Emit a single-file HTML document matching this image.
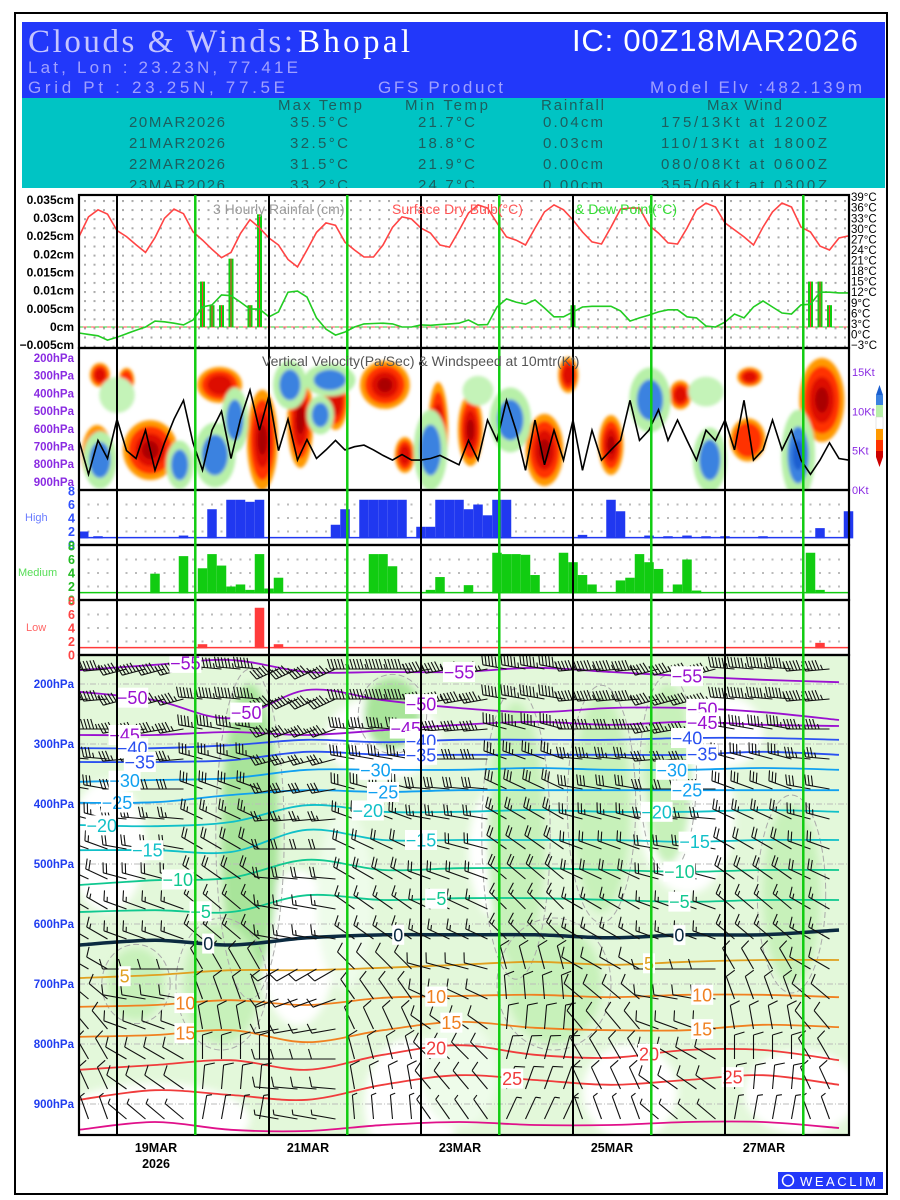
<!DOCTYPE html>
<html><head><meta charset="utf-8"><title>Clouds & Winds: Bhopal</title>
<style>
html,body{margin:0;padding:0;background:#fff;}
svg{display:block;font-family:"Liberation Sans",sans-serif;}
</style></head>
<body>
<svg id="chart" width="900" height="1200" viewBox="0 0 900 1200" xmlns="http://www.w3.org/2000/svg">
<defs>
<filter id="blur4" x="-30%" y="-30%" width="160%" height="160%"><feGaussianBlur stdDeviation="4"/></filter>
<filter id="blur2" x="-30%" y="-30%" width="160%" height="160%"><feGaussianBlur stdDeviation="1.5"/></filter>
<clipPath id="clipRain"><rect x="79" y="195" width="770" height="153"/></clipPath>
<clipPath id="clipVV"><rect x="79" y="349" width="770" height="141"/></clipPath>
<clipPath id="clipX"><rect x="79" y="656" width="770" height="479"/></clipPath>
<pattern id="dotsRain" x="84" y="200" width="9.5" height="9.1" patternUnits="userSpaceOnUse"><rect x="0" y="0" width="2" height="2" fill="#aaa"/></pattern>
</defs>
<rect x="0" y="0" width="900" height="1200" fill="#fff"/>
<rect x="15" y="13" width="872" height="1181" fill="none" stroke="#000" stroke-width="2"/>

<g>
<rect x="22" y="22" width="863" height="76" fill="#2238fa"/>
<rect x="22" y="98" width="863" height="92" fill="#00c4c4"/>
<text x="28" y="52" font-family="'Liberation Serif',serif" font-size="33" fill="#c4c4ff" textLength="265">Clouds &amp; Winds:</text>
<text x="298" y="52" font-family="'Liberation Serif',serif" font-size="33" fill="#fff" textLength="112">Bhopal</text>
<text x="572" y="51" font-size="31" fill="#fff" textLength="286">IC: 00Z18MAR2026</text>
<text x="28" y="73" font-size="17" fill="#a0a0ff" textLength="270">Lat, Lon : 23.23N, 77.41E</text>
<text x="28" y="93" font-size="17" fill="#a0a0ff" textLength="257">Grid Pt  : 23.25N, 77.5E</text>
<text x="378" y="93" font-size="17" fill="#a0a0ff" textLength="125">GFS Product</text>
<text x="650" y="93" font-size="17" fill="#a0a0ff" textLength="212">Model Elv :482.139m</text>
<g font-size="15" fill="#1d5e5e">
<text x="278" y="110" textLength="84">Max Temp</text>
<text x="405" y="110" textLength="83">Min Temp</text>
<text x="541" y="110" textLength="63">Rainfall</text>
<text x="707" y="110" textLength="75">Max Wind</text>
<text x="129" y="127" textLength="96">20MAR2026</text>
<text x="290" y="127" textLength="58">35.5°C</text>
<text x="418" y="127" textLength="57">21.7°C</text>
<text x="543" y="127" textLength="60">0.04cm</text>
<text x="661" y="127" textLength="166">175/13Kt at 1200Z</text>
<text x="129" y="148" textLength="96">21MAR2026</text>
<text x="290" y="148" textLength="58">32.5°C</text>
<text x="418" y="148" textLength="57">18.8°C</text>
<text x="543" y="148" textLength="60">0.03cm</text>
<text x="661" y="148" textLength="166">110/13Kt at 1800Z</text>
<text x="129" y="169" textLength="96">22MAR2026</text>
<text x="290" y="169" textLength="58">31.5°C</text>
<text x="418" y="169" textLength="57">21.9°C</text>
<text x="543" y="169" textLength="60">0.00cm</text>
<text x="661" y="169" textLength="166">080/08Kt at 0600Z</text>
<text x="129" y="190" textLength="96">23MAR2026</text>
<text x="290" y="190" textLength="58">33.2°C</text>
<text x="418" y="190" textLength="57">24.7°C</text>
<text x="543" y="190" textLength="60">0.00cm</text>
<text x="661" y="190" textLength="166">355/06Kt at 0300Z</text>
</g>
<rect x="22" y="188" width="863" height="3" fill="#fff"/>
</g>

<g id="rainPanel">
<rect x="79" y="196" width="770" height="151" fill="url(#dotsRain)"/>
</g>
<g id="vvPanel"></g>
<g id="cloudPanel"></g>
<g id="xsecPanel"></g>
<g id="frameLayer"></g>
<g id="axisLayer" font-weight="bold"></g>

<g font-size="14">
<text x="213" y="214" fill="#9a9a9a">3 Hourly Rainfal (cm)</text>
<text x="392" y="214" fill="#ff5555">Surface Dry Bulb(°C)</text>
<text x="575" y="214" fill="#33dd33">&amp; Dew Point(°C)</text>
<text x="262" y="366" fill="#555">Vertical Velocity(Pa/Sec) &amp; Windspeed at 10mtr(Kt)</text>
</g>

<g>
<polygon points="876,395 879.5,385 883,395" fill="#1a5fd0"/>
<rect x="876" y="395" width="7" height="10" fill="#3b82e0"/>
<rect x="876" y="405" width="7" height="12" fill="#b7f0a8"/>
<rect x="876" y="417" width="7" height="12" fill="#fff" stroke="#ccc" stroke-width="0.5"/>
<rect x="876" y="429" width="7" height="11" fill="#ff9900"/>
<rect x="876" y="440" width="7" height="11" fill="#ff3300"/>
<rect x="876" y="451" width="7" height="6" fill="#cc0000"/>
<polygon points="876,457 879.5,467 883,457" fill="#cc0000"/>
</g>

<g font-size="12.5" font-weight="bold" text-anchor="middle">
<text x="156" y="1152">19MAR</text>
<text x="156" y="1168">2026</text>
<text x="308" y="1152">21MAR</text>
<text x="460" y="1152">23MAR</text>
<text x="612" y="1152">25MAR</text>
<text x="764" y="1152">27MAR</text>
</g>
<g>
<rect x="778" y="1172" width="105" height="17" fill="#2238fa"/>
<circle cx="788" cy="1180.5" r="5.5" fill="none" stroke="#fff" stroke-width="1.5"/>
<text x="800" y="1186" font-size="13" fill="#fff" textLength="76">WEACLIM</text>
</g>
</svg>

<script>
// ---------- DATA ----------
const tempC = [27.8,33.4,35.4,34.2,29.5,27.8,25.5,23.3,27.5,33.0,35.6,34.3,29.2,26.8,24.2,21.8,23.3,28.7,32.6,30.3,27.4,25.4,21.3,19.2,24.0,29.0,31.7,31.0,26.2,24.0,22.0,22.0,25.4,30.4,33.4,32.8,30.2,28.8,25.4,24.8,29.5,34.5,36.8,35.9,31.7,27.7,26.8,25.4,30.2,34.8,36.8,35.4,32.5,29.1,26.3,25.7,30.5,35.6,35.9,35.9,31.0,28.8,26.0,25.7,30.2,35.4,37.3,36.2,31.7,29.7,27.7,25.4,30.5,34.8,37.3,36.2,30.5,29.1,25.1,24.0,27.4,28.0];
const dewC = [0.4,0,-0.4,-1.6,-0.8,0.2,1.2,2.1,3.8,3.6,3.2,2.7,4.1,7.8,8.4,11.2,11.0,9.2,7.2,7.2,5.0,6.4,12.0,12.3,10.6,4.7,1.5,-0.2,0.7,2.1,3.0,3.1,3.2,3.0,2.1,2.1,2.7,2.6,2.8,3.0,3.2,4.1,2.7,2.8,7.8,10.1,9.2,8.6,9.8,7.5,5.0,5.0,6.4,7.8,8.0,8.0,8.0,6.7,3.8,4.7,5.5,6.4,7.0,7.0,5.0,4.7,2.4,2.1,3.5,5.8,4.7,7.8,9.5,7.8,6.1,5.8,8.4,8.6,12.0,12.0,11.8,11.8];
const rainIdx = [13,14,15,16,18,19,52,77,78,79];
const rainCm = [0.0125,0.006,0.006,0.0188,0.006,0.031,0.006,0.0125,0.0125,0.006];
const windKt = [6.3,2,6.3,4,9,5,4,7.6,2.5,6,9,11.4,6,2.5,7.6,10,4,9,12.7,7.6,12,5,9,3.8,6.4,4,5.1,6.3,5.1,5.5,5.7,5.1,4.4,3.8,4.5,3.8,3.8,4,4.4,3.8,3.2,6.3,3.8,8.9,6.3,11.4,7.6,2.5,8.9,3.2,7.6,3.8,8.9,2.5,7.6,3.8,5.1,6.3,11.4,6.3,7.6,10.2,6.3,8.9,6.3,3.8,7.6,6.3,8.9,5.1,11.4,3.8,5.1,8.9,5.1,7.6,3.8,2,3.8,6,4,3.8];
// vertical velocity blobs: time index, pressure, half-width (steps), half-height (hPa), sign, strength
const vvT = [1.9,7.5,14.8,19.3,23.3,27,32.2,34.3,37.8,41.2,49,51.5,56,63.3,70.4,70.6,78.2,5,2.2, 2.2,14.3,22.2,26.4,25.4,37,45.4,60.1,66.4,75.7,10.6,16.4, 4,42,66];
const vvP = [748,720,352,663,550,437,352,748,607,607,720,296,692,409,663,307,437,324,296, 776,748,352,324,522,720,550,437,776,748,804,550, 409,385,390];
const vvRT = [1.3,2.3,1.9,1.3,1.1,1.05,2.1,0.85,0.85,1.05,1.6,0.85,1.05,0.95,1.5,1.05,1.9,0.65,0.85, 1.05,1.3,1.05,1.6,0.85,1.05,1.3,1.3,1.05,1.05,0.85,0.85, 1.5,1.3,1.5];
const vvRP = [141,141,85,237,226,141,113,85,226,170,170,85,141,68,102,45,198,57,57, 100,113,85,57,68,141,113,113,113,158,85,113, 85,70,70];
const vvSign = [1,1,1,1,1,1,1,1,1,1,1,1,1,1,1,1,1,1,1, -1,-1,-1,-1,-1,-1,-1,-1,-1,-1,-1,-1, 0,0,0];
const vvStr = [3,3,2,3,3,2,3,2,2,3,3,2,3,2,1,2,3,1,2, 2,2,2,2,1,2,2,2,2,3,2,1, 1,1,1];
// cloud cover (axis units 0-8, baseline 1.1)
const highIdx = [0,2,11,14,16,17,18,19,27,28,30,31,32,33,34,36,37,38,39,40,41,42,43,44,45,53,56,57,60,62,64,66,68,72,78,81];
const highVal = [2,1.3,1.4,5.3,6.7,6.7,6.4,6.7,3.0,5.3,6.7,6.7,6.7,6.7,6.7,2.7,2.7,6.7,6.7,6.7,5.3,6.0,4.4,6.7,6.7,1.5,6.7,5.0,1.4,1.3,1.4,1.3,1.3,1.3,2.5,5.0];
const medIdx = [8,11,13,14,15,16,17,18,19,20,21,31,32,33,37,38,41,44,45,46,47,48,51,52,53,54,57,58,59,60,61,63,64,65,77,78];
const medVal = [3.9,6.5,4.7,6.8,5.1,2.0,2.3,1.5,6.8,1.7,3.3,6.8,6.8,5.0,1.5,3.4,2.2,7.0,6.8,6.8,6.7,3.7,7.0,5.6,3.7,2.3,2.9,3.3,6.8,5.6,4.6,2.3,6.0,1.4,7.0,1.5];
const lowIdx = [13,19,21,78];
const lowVal = [1.6,7.0,1.6,1.8];
// isotherms (deg C) and their pressure (hPa) at each day 18..28 MAR 00Z
const isoLevels = [-55,-50,-45,-40,-35,-30,-25,-20,-15,-10,-5,0,5,10,15,20,25,30];
const isoPressures = [
 [177,168,160,180,180,180,173,180,187,193,197],
 [213,227,257,210,227,240,247,240,240,247,260],
 [285,285,280,285,277,268,263,268,263,268,270],
 [307,307,302,293,297,293,293,293,290,290,293],
 [330,330,327,313,318,318,318,318,318,313,318],
 [363,360,357,343,343,343,340,343,343,340,343],
 [398,397,385,377,380,377,377,377,377,377,377],
 [435,437,430,402,413,413,410,413,413,410,413],
 [477,477,480,443,460,460,460,460,463,460,460],
 [535,527,523,493,510,507,507,510,513,510,510],
 [580,577,580,552,560,557,557,560,563,560,560],
 [635,627,635,623,618,618,618,623,618,618,610],
 [690,685,677,677,673,668,663,668,663,660,660],
 [738,735,727,735,723,720,718,722,718,718,722],
 [788,785,777,797,777,763,773,777,777,768,772],
 [843,835,827,843,818,802,818,823,810,810,827],
 [893,877,885,893,868,852,860,868,860,852,868],
 [943,930,943,945,935,930,935,935,930,930,940]];
const isoLabelDays = [[1.4,5,8],[0.7,2.2,4.5,8.2],[0.6,4.3,8.2],[0.7,4.5,8],[0.8,4.5,8.2],[0.6,3.9,7.8],[0.5,4,8],[0.3,3.8,7.6],[0.9,4.5,8.1],[1.3,7.9],[1.6,4.7,7.9],[1.7,4.2,7.9],[0.6,7.5],[1.4,4.7,8.2],[1.4,4.9,8.2],[4.7,7.5],[5.7,8.6],[]];
// humidity shading: time index, pressure, half-width (steps), half-height (hPa), level
const rhT = [3,23,32,35,8,58,76,44,64,68,18,46,55,62,75,33,15,50,6,28,40];
const rhP = [470,640,290,900,925,880,880,480,420,280,450,450,400,350,550,250,700,700,700,560,850];
const rhRT = [4,4,6,5,10,5,6,3,5,4,3,3,3,2.5,3,3,4,5,3,3,4];
const rhRP = [110,130,70,110,60,80,70,110,130,60,250,220,180,150,150,60,100,100,60,150,90];
const rhLev = [0,0,0,0,0,0,0,0,0,0,3,2,2,2,2,3,2,2,2,1,1];
// wind barbs per level
const barbLevels = [175,225,275,325,375,425,475,525,575,625,675,725,775,825,875,925];
const barbDir = [265,265,270,275,280,285,290,295,300,300,300,310,320,330,335,340];
const barbSpd = [55,55,45,35,30,25,20,20,15,15,12,10,10,10,10,8];
const dayDirShift = [0,-10,10,-20,5,-5,15,0,-10,10,0];

// ---------- SCALES ----------
const NS = 'http://www.w3.org/2000/svg';
const X = i => 79 + i * 9.5;
const XD = d => X(d * 8);
const yR = v => 327 - v / 0.005 * 18.17;
const yT = t => 345 - (t + 3) * 3.52;
const yV = p => 358 + (p - 200) * 0.177;
const yK = k => 490 - k * 7.87;
const yP = p => 684 + (p - 200) * 0.6;
const yC = (top, v) => top + (8 - v) * 6.75;

function mk(parent, tag, attrs, txt) {
  const e = document.createElementNS(NS, tag);
  for (const k in attrs) e.setAttribute(k, attrs[k]);
  if (txt != null) e.textContent = txt;
  parent.appendChild(e);
  return e;
}
function smooth(pts) {
  let d = 'M' + pts[0][0].toFixed(1) + ',' + pts[0][1].toFixed(1);
  for (let i = 0; i < pts.length - 1; i++) {
    const p0 = pts[i - 1] || pts[i], p1 = pts[i], p2 = pts[i + 1], p3 = pts[i + 2] || p2;
    const c1 = [p1[0] + (p2[0] - p0[0]) / 6, p1[1] + (p2[1] - p0[1]) / 6];
    const c2 = [p2[0] - (p3[0] - p1[0]) / 6, p2[1] - (p3[1] - p1[1]) / 6];
    d += ' C' + c1[0].toFixed(1) + ',' + c1[1].toFixed(1) + ' ' + c2[0].toFixed(1) + ',' + c2[1].toFixed(1) + ' ' + p2[0].toFixed(1) + ',' + p2[1].toFixed(1);
  }
  return d;
}
const rain = document.getElementById('rainPanel');
const vv = document.getElementById('vvPanel');
const cloud = document.getElementById('cloudPanel');
const xs = document.getElementById('xsecPanel');
const frame = document.getElementById('frameLayer');
const axis = document.getElementById('axisLayer');

// ---------- RAIN / TEMP PANEL ----------
const rg = mk(rain, 'g', {'clip-path': 'url(#clipRain)'});
let el = mk(rg, 'line', {x1: 79, x2: 849, y1: yR(0), y2: yR(0), stroke: '#33cc33', 'stroke-width': 1, 'stroke-dasharray': '4,4'});


el = mk(rg, 'line', {x1: 83, x2: 849, y1: yR(0), y2: yR(0), stroke: '#ff5555', 'stroke-width': 1, 'stroke-dasharray': '4,4'});


rainIdx.forEach((ix, k) => {
  const x = X(ix), y0 = yR(0), y1 = yR(rainCm[k]);
  const b = mk(rg, 'rect', {x: x - 2.5, y: y1, width: 5, height: y0 - y1, fill: '#11cc11'});
  
  
  const c = mk(rg, 'line', {x1: x, x2: x, y1: y1, y2: y0, stroke: '#ff3333', 'stroke-width': 1});
  
  
});
el = mk(rg, 'polyline', {points: tempC.map((t, i) => X(i).toFixed(1) + ',' + yT(t).toFixed(1)).join(' '), fill: 'none', stroke: '#ff4444', 'stroke-width': 1.6});


el = mk(rg, 'polyline', {points: dewC.map((t, i) => X(i).toFixed(1) + ',' + yT(t).toFixed(1)).join(' '), fill: 'none', stroke: '#22cc22', 'stroke-width': 1.6});



// ---------- VV PANEL ----------
const vg = mk(vv, 'g', {'clip-path': 'url(#clipVV)'});
const vgb = mk(vg, 'g', {filter: 'url(#blur2)'});
vvT.forEach((t, k) => {
  const cx = X(t), cy = yV(vvP[k]), rx = vvRT[k] * 9.5 * 1.25, ry = vvRP[k] * 0.177 * 1.2;
  let layers;
  if (vvSign[k] > 0) {
    layers = [[1, '#ff9900'], [0.8, '#ff3300']];
    if (vvStr[k] >= 2) layers.push([0.55, '#dd1100']);
    if (vvStr[k] >= 3) layers.push([0.3, '#aa0000']);
  } else if (vvSign[k] < 0) {
    layers = [[1.35, '#b7f0a8'], [0.85, '#3b82e0']];
    if (vvStr[k] >= 3) layers.push([0.45, '#1a5fd0']);
  } else {
    layers = [[1, '#c4f3b8']];
  }
  layers.forEach(([s, col]) => {
    const e = mk(vgb, 'ellipse', {cx: cx, cy: cy, rx: rx * s, ry: ry * s, fill: col});
    
    
  });
});
el = mk(vg, 'polyline', {points: windKt.map((k, i) => X(i).toFixed(1) + ',' + yK(k).toFixed(1)).join(' '), fill: 'none', stroke: '#000', 'stroke-width': 1.6});



// ---------- CLOUD PANELS ----------
const panels = [
  {top: 491, idx: highIdx, val: highVal, col: '#2038f0', name: 'high', label: 'High', lx: 25, lcol: '#6a7cff', nums: '#3050ff'},
  {top: 546, idx: medIdx, val: medVal, col: '#11cc11', name: 'medium', label: 'Medium', lx: 18, lcol: '#55dd55', nums: '#22bb22'},
  {top: 601, idx: lowIdx, val: lowVal, col: '#ff3b3b', name: 'low', label: 'Low', lx: 26, lcol: '#ff6666', nums: '#ff4444'}
];
panels.forEach(P => {
  [2, 4, 6].forEach(v => {
    for (let i = 1; i < 81; i++) {
      const d = mk(cloud, 'rect', {x: X(i) - 1, y: yC(P.top, v) - 1, width: 2, height: 2, fill: '#bbb'});
      
      
    }
  });
  const bl = mk(cloud, 'line', {x1: 79, x2: 849, y1: yC(P.top, 1.1), y2: yC(P.top, 1.1), stroke: P.col, 'stroke-width': 1.5});
  
  
  P.idx.forEach((ix, k) => {
    const y1 = yC(P.top, P.val[k]), y0 = yC(P.top, 1.1);
    const b = mk(cloud, 'rect', {x: Math.max(79, X(ix) - 4.75), y: y1, width: 9.5, height: y0 - y1 + 0.8, fill: P.col});
    
    
  });
  const t = mk(axis, 'text', {x: P.lx, y: P.top + 30, 'font-size': 11, 'font-weight': 'normal', fill: P.lcol}, P.label);
  
  
  [8, 6, 4, 2, 0].forEach(v => {
    const n = mk(axis, 'text', {x: 75, y: yC(P.top, v) + 4.5, 'font-size': 12.5, 'text-anchor': 'end', fill: P.nums}, String(v));
    
    
  });
});

// ---------- CROSS SECTION ----------
const xg = mk(xs, 'g', {'clip-path': 'url(#clipX)'});
el = mk(xg, 'rect', {x: 79, y: 656, width: 770, height: 479, fill: '#e3f8da'});


const rhCols = ['#ffffff', '#eefcea', '#c7f1ba', '#a8e49a'];
const rhg = mk(xg, 'g', {filter: 'url(#blur4)'});
rhT.forEach((t, k) => {
  const e = mk(rhg, 'ellipse', {cx: X(t), cy: yP(rhP[k]), rx: rhRT[k] * 9.5, ry: rhRP[k] * 0.6, fill: rhCols[rhLev[k]]});
  
  
});
rhT.forEach((t, k) => {
  if (rhLev[k] < 2) return;
  const e = mk(xg, 'ellipse', {cx: X(t), cy: yP(rhP[k]), rx: rhRT[k] * 9.5 * 1.2, ry: rhRP[k] * 0.6 * 1.1, fill: 'none', stroke: '#aaa', 'stroke-width': 1, 'stroke-dasharray': '6,3'});
  
  
});
for (let p = 200; p <= 900; p += 100) {
  const g = mk(xg, 'line', {x1: 79, x2: 849, y1: yP(p), y2: yP(p), stroke: '#bbb', 'stroke-width': 1, 'stroke-dasharray': '6,2,1,2'});
  
  
}
function isoColor(t) {
  if (t <= -45) return '#9a10d0';
  if (t <= -35) return '#2a50f0';
  if (t <= -25) return '#10a0f0';
  if (t <= -15) return '#10c0c8';
  if (t <= -5) return '#10c890';
  if (t === 0) return '#0b2a40';
  if (t === 5) return '#e0a020';
  if (t <= 15) return '#f08020';
  if (t <= 25) return '#f03c3c';
  return '#e0108a';
}
const labelQueue = [];
isoLevels.forEach((lev, k) => {
  const pts = isoPressures[k].map((p, d) => [XD(d), yP(p)]);
  const pth = mk(xg, 'path', {d: smooth(pts), fill: 'none', stroke: isoColor(lev), 'stroke-width': lev === 0 ? 3.5 : 1.8});
  
  
  isoLabelDays[k].forEach(d => {
    const d0 = Math.floor(d), f = d - d0;
    const p = isoPressures[k][d0] * (1 - f) + isoPressures[k][Math.min(10, d0 + 1)] * f;
    labelQueue.push([XD(d), yP(p), String(lev).replace('-', '\u2212'), isoColor(lev)]);
  });
});
// wind barbs
barbLevels.forEach((p, li) => {
  for (let ti = 1; ti <= 80; ti += 2) {
    const day = Math.min(10, Math.round(ti / 8));
    const dir = (barbDir[li] + dayDirShift[day] * (li > 9 ? 3 : 1)) * Math.PI / 180;
    const spd = barbSpd[li];
    const x0 = X(ti), y0 = yP(p);
    const ux = Math.sin(dir), uy = -Math.cos(dir);
    const L = 24;
    let d = 'M' + x0.toFixed(1) + ',' + y0.toFixed(1) + ' l' + (ux * L).toFixed(1) + ',' + (uy * L).toFixed(1);
    const fx = -uy, fy = ux;
    let rem = spd, pos = L;
    while (rem >= 10) {
      const bx = x0 + ux * pos, by = y0 + uy * pos;
      d += ' M' + bx.toFixed(1) + ',' + by.toFixed(1) + ' l' + (fx * 10 + ux * 3).toFixed(1) + ',' + (fy * 10 + uy * 3).toFixed(1);
      rem -= 10; pos -= 3.4;
    }
    if (rem >= 5) {
      const bx = x0 + ux * pos, by = y0 + uy * pos;
      d += ' M' + bx.toFixed(1) + ',' + by.toFixed(1) + ' l' + (fx * 5 + ux * 1.6).toFixed(1) + ',' + (fy * 5 + uy * 1.6).toFixed(1);
    }
    const b = mk(xg, 'path', {d: d, fill: 'none', stroke: '#111', 'stroke-width': 1.1});
    
    
  }
});
labelQueue.forEach(([x, y, txt, col]) => {
  const w = txt.length * 10 + 2;
  const r = mk(xg, 'rect', {x: x - w / 2, y: y - 10, width: w, height: 20, fill: '#fff'});
  
  
  const t = mk(xg, 'text', {x: x, y: y + 6.5, 'text-anchor': 'middle', 'font-size': 18, fill: col}, txt);
  
  
});

// ---------- FRAMES, REFERENCE LINES ----------
[[195, 348], [348, 490], [490, 545], [545, 600], [600, 655], [655, 1135]].forEach(([a, b]) => {
  const r = mk(frame, 'rect', {x: 79, y: a, width: 770, height: b - a, fill: 'none', stroke: '#000', 'stroke-width': 2.2});
  
  
});
[4, 20, 36, 52, 68].forEach(i => {
  const l = mk(frame, 'line', {x1: X(i), x2: X(i), y1: 195, y2: 1135, stroke: '#000', 'stroke-width': 2});
  
  
});
[1.53, 3.53, 5.53, 7.53, 9.53].forEach(d => {
  const l = mk(frame, 'line', {x1: XD(d), x2: XD(d), y1: 195, y2: 1135, stroke: '#11cc11', 'stroke-width': 2.5});
  
  
});

// ---------- AXES ----------
['0.035', '0.03', '0.025', '0.02', '0.015', '0.01', '0.005', '0', '\u22120.005'].forEach(s => {
  const v = parseFloat(s.replace('\u2212', '-'));
  const t = mk(axis, 'text', {x: 74, y: yR(v) + 4, 'font-size': 12, 'text-anchor': 'end'}, s + 'cm');
  
  
});
for (let c = 39; c >= -3; c -= 3) {
  const t = mk(axis, 'text', {x: 851, y: yT(c) + 4, 'font-size': 11.5, 'font-weight': 'normal'}, (c < 0 ? '\u2212' + (-c) : c) + '°C');
  
  
}
for (let p = 200; p <= 900; p += 100) {
  const t = mk(axis, 'text', {x: 74, y: yV(p) + 4, 'font-size': 11.5, 'text-anchor': 'end', fill: '#8a2be2'}, p + 'hPa');
  
  
  const x = mk(axis, 'text', {x: 74, y: yP(p) + 4, 'font-size': 11.5, 'text-anchor': 'end', fill: '#1f3cf0'}, p + 'hPa');
  
  
}
[15, 10, 5, 0].forEach(k => {
  const t = mk(axis, 'text', {x: 852, y: yK(k) + 4, 'font-size': 11, 'font-weight': 'normal', fill: '#8a2be2'}, k + 'Kt');
  
  
});
</script>
</body></html>
